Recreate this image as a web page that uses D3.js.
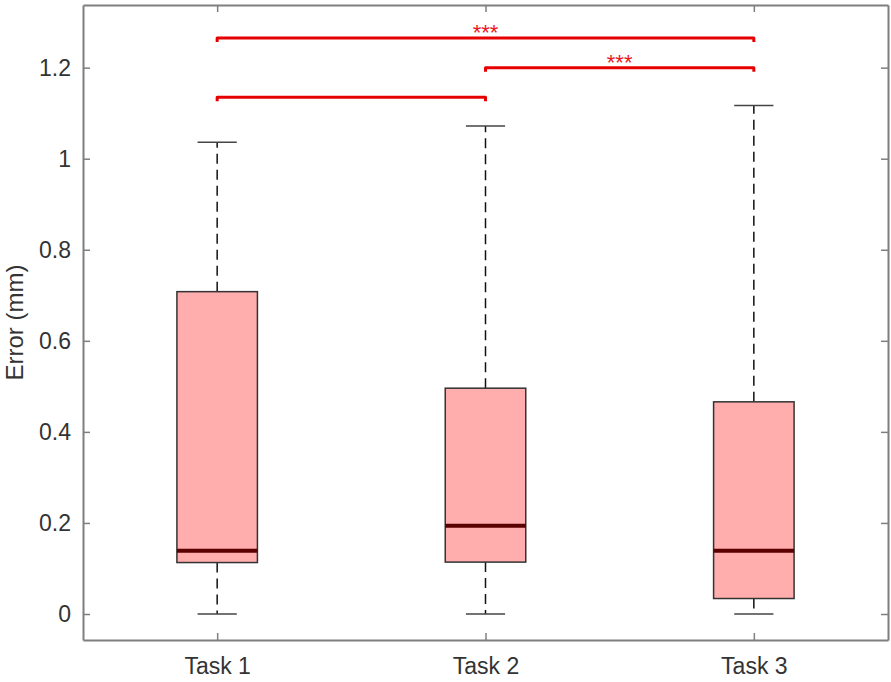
<!DOCTYPE html>
<html>
<head>
<meta charset="utf-8">
<script src="https://cdn.jsdelivr.net/npm/d3@7"></script>
<style>
  html, body { margin: 0; padding: 0; background: #fff; }
  svg { display: block; font-family: "Liberation Sans", Arial, Helvetica, sans-serif; }
</style>
</head>
<body>
<svg id="chart" width="891" height="682"></svg>
<script>
// ---- data ----
const categories = ["Task 1", "Task 2", "Task 3"];
const whiskerLow  = [0.000, 0.000, 0.000];
const q1          = [0.113, 0.114, 0.034];
const medians     = [0.139, 0.194, 0.139];
const q3          = [0.708, 0.496, 0.466];
const whiskerHigh = [1.036, 1.072, 1.117];
const yTicks = [0, 0.2, 0.4, 0.6, 0.8, 1, 1.2];
const compFrom   = [1, 2, 1];
const compTo     = [3, 3, 2];
const compLevel  = [1.265, 1.200, 1.135];
const compLabel  = ["***", "***", ""];

// ---- layout ----
const svg = d3.select("#chart");
const pLeft = 83, pRight = 888, pTop = 5, pBottom = 640;
const x = d3.scaleLinear().domain([0.5, 3.5]).range([pLeft, pRight]);
const y = d3.scaleLinear().domain([-0.0571, 1.3376]).range([pBottom, pTop]);
const boxHalf = 0.15, capHalf = 0.073;
const axisColor = "#7f7f7f", textColor = "#333";

const g = svg.append("g");

categories.forEach((c, i) => {
  const xi = x(i + 1);
  g.append("line").attr("x1", xi).attr("x2", xi)
    .attr("y1", y(q3[i])).attr("y2", y(whiskerHigh[i]))
    .attr("stroke", "#111").attr("stroke-width", 1.5).attr("stroke-dasharray", "10,6");
  g.append("line").attr("x1", xi).attr("x2", xi)
    .attr("y1", y(q1[i])).attr("y2", y(whiskerLow[i]))
    .attr("stroke", "#111").attr("stroke-width", 1.5).attr("stroke-dasharray", "10,6");
  [whiskerHigh[i], whiskerLow[i]].forEach(v => {
    g.append("line").attr("x1", x(i + 1 - capHalf)).attr("x2", x(i + 1 + capHalf))
      .attr("y1", y(v)).attr("y2", y(v))
      .attr("stroke", "#444").attr("stroke-width", 1.5);
  });
  g.append("rect").attr("x", x(i + 1 - boxHalf)).attr("width", x(i + 1 + boxHalf) - x(i + 1 - boxHalf))
    .attr("y", y(q3[i])).attr("height", y(q1[i]) - y(q3[i]))
    .attr("fill", "#ffadad").attr("stroke", "#333").attr("stroke-width", 1.5);
  g.append("line").attr("x1", x(i + 1 - boxHalf)).attr("x2", x(i + 1 + boxHalf))
    .attr("y1", y(medians[i])).attr("y2", y(medians[i]))
    .attr("stroke", "#5a0000").attr("stroke-width", 4);
});

// significance brackets
compFrom.forEach((a, k) => {
  const b = compTo[k], lv = y(compLevel[k]);
  const path = d3.path();
  path.moveTo(x(a), lv + 4); path.lineTo(x(a), lv); path.lineTo(x(b), lv); path.lineTo(x(b), lv + 4);
  g.append("path").attr("d", path.toString()).attr("fill", "none")
    .attr("stroke", "#e60000").attr("stroke-width", 3).attr("stroke-linejoin", "round");
  if (compLabel[k]) {
    g.append("text").attr("x", (x(a) + x(b)) / 2).attr("y", lv + 2)
      .attr("text-anchor", "middle").attr("fill", "#e8191c")
      .attr("font-size", 22).text(compLabel[k]);
  }
});

// axes frame
const axL = d3.axisLeft(y).tickValues(yTicks).tickSizeInner(-7).tickSizeOuter(0)
  .tickFormat(d => String(+d.toFixed(1))).tickPadding(12);
const axR = d3.axisRight(y).tickValues(yTicks).tickSizeInner(-7).tickSizeOuter(0).tickFormat("");
const axB = d3.axisBottom(x).tickValues([1, 2, 3]).tickSizeInner(-7).tickSizeOuter(0)
  .tickFormat(d => categories[d - 1]).tickPadding(18);
const axT = d3.axisTop(x).tickValues([1, 2, 3]).tickSizeInner(-7).tickSizeOuter(0).tickFormat("");

function style(sel) {
  sel.selectAll("path,line").attr("stroke", axisColor).attr("stroke-width", 1.5);
  sel.selectAll("text").attr("fill", textColor).attr("font-size", 23)
    .attr("font-family", "'Liberation Sans', Arial, sans-serif");
}
svg.append("g").attr("transform", `translate(${pLeft},0)`).call(axL).call(style);
svg.append("g").attr("transform", `translate(${pRight},0)`).call(axR).call(style);
svg.append("g").attr("transform", `translate(0,${pBottom})`).call(axB).call(style);
svg.append("g").attr("transform", `translate(0,${pTop})`).call(axT).call(style);
svg.selectAll(".domain").attr("stroke-width", 2);

// y label
svg.append("text").attr("transform", `translate(23,${(pTop + pBottom) / 2}) rotate(-90)`)
  .attr("text-anchor", "middle").attr("fill", textColor).attr("font-size", 24)
  .text("Error (mm)");
</script>
</body>
</html>
